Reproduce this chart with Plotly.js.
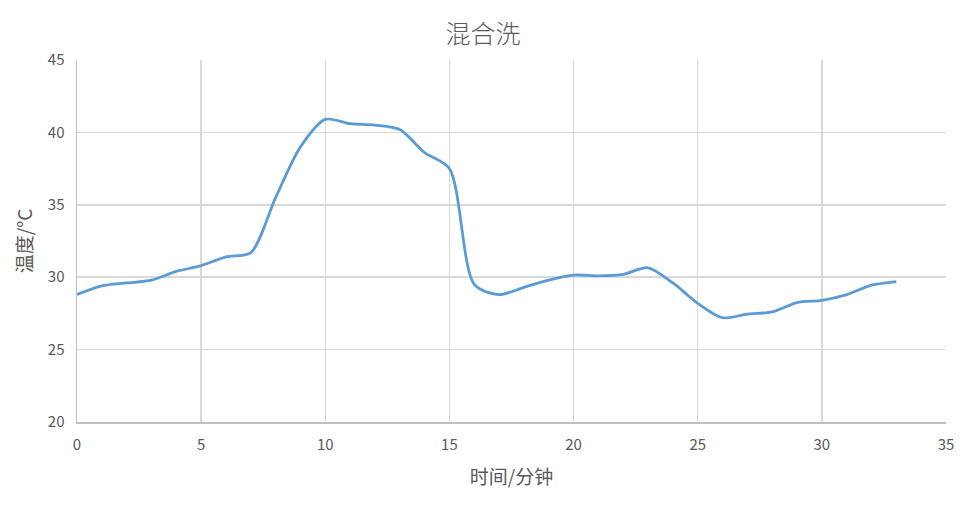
<!DOCTYPE html>
<html>
<head>
<meta charset="utf-8">
<script src="https://cdn.plot.ly/plotly-3.0.1.min.js"></script>
<style>
  html, body { margin: 0; padding: 0; background: #fff; }
  #chart { width: 966px; height: 511px; }
</style>
</head>
<body>
<div id="chart"></div>
<script>
// 时间 (分钟) and 温度 (°C)
const minutes = [0, 1, 2, 3, 4, 5, 6, 7, 8, 9, 10, 11, 12, 13, 14, 15, 16,
  17, 18, 19, 20, 21, 22, 23, 24, 25, 26, 27, 28, 29, 30, 31, 32, 33];
const temps = [28.8, 29.4, 29.6, 29.8, 30.4, 30.8, 31.4, 31.7, 35.5, 39.0,
  40.9, 40.6, 40.5, 40.2, 38.6, 37.5, 29.5, 28.8, 29.3, 29.8, 30.15, 30.1,
  30.2, 30.65, 29.6, 28.2, 27.2, 27.45, 27.6, 28.25, 28.4, 28.8, 29.45, 29.7];

const xTicks = [0, 5, 10, 15, 20, 25, 30, 35];
const yTicks = [20, 25, 30, 35, 40, 45];

const fontFamily = '"Noto Sans CJK SC", "Noto Sans", sans-serif';
const textColor = "#595959";

const data = [
  {
    x: minutes,
    y: temps,
    type: "scatter",
    mode: "lines",
    line: { color: "#5b9bd5", width: 2.75, shape: "spline", smoothing: 0.8 },
    hoverinfo: "x+y",
  },
];

const layout = {
  width: 966,
  height: 511,
  margin: { l: 77, r: 20, t: 60, b: 89 },
  paper_bgcolor: "#ffffff",
  plot_bgcolor: "#ffffff",
  showlegend: false,
  font: { family: fontFamily, color: textColor },
  title: {
    text: "混合洗",
    font: { family: fontFamily, size: 25, color: textColor, weight: 300 },
    x: 0.5,
    xanchor: "center",
    y: 0.932,
    yanchor: "middle",
  },
  xaxis: {
    range: [0, 35],
    tickvals: xTicks,
    ticktext: xTicks.map(String),
    showgrid: true,
    gridcolor: "#d9d9d9",
    gridwidth: 1.5,
    zeroline: false,
    showline: true,
    linecolor: "#bfbfbf",
    linewidth: 1.5,
    ticks: "",
    ticklabelstandoff: 8,
    tickfont: { size: 15, color: textColor },
    title: { text: "时间/分钟", font: { size: 19, color: textColor }, standoff: 18 },
    fixedrange: true,
  },
  yaxis: {
    range: [20, 45],
    tickvals: yTicks,
    ticktext: yTicks.map(String),
    showgrid: true,
    gridcolor: "#d9d9d9",
    gridwidth: 1.5,
    zeroline: false,
    showline: true,
    linecolor: "#bfbfbf",
    linewidth: 1.5,
    ticks: "",
    ticklabelstandoff: 8,
    tickfont: { size: 15, color: textColor },
    title: { text: "温度/°C", font: { size: 19, color: textColor }, standoff: 10 },
    fixedrange: true,
  },
};

Plotly.newPlot("chart", data, layout, { displayModeBar: false, staticPlot: true });
</script>
</body>
</html>
